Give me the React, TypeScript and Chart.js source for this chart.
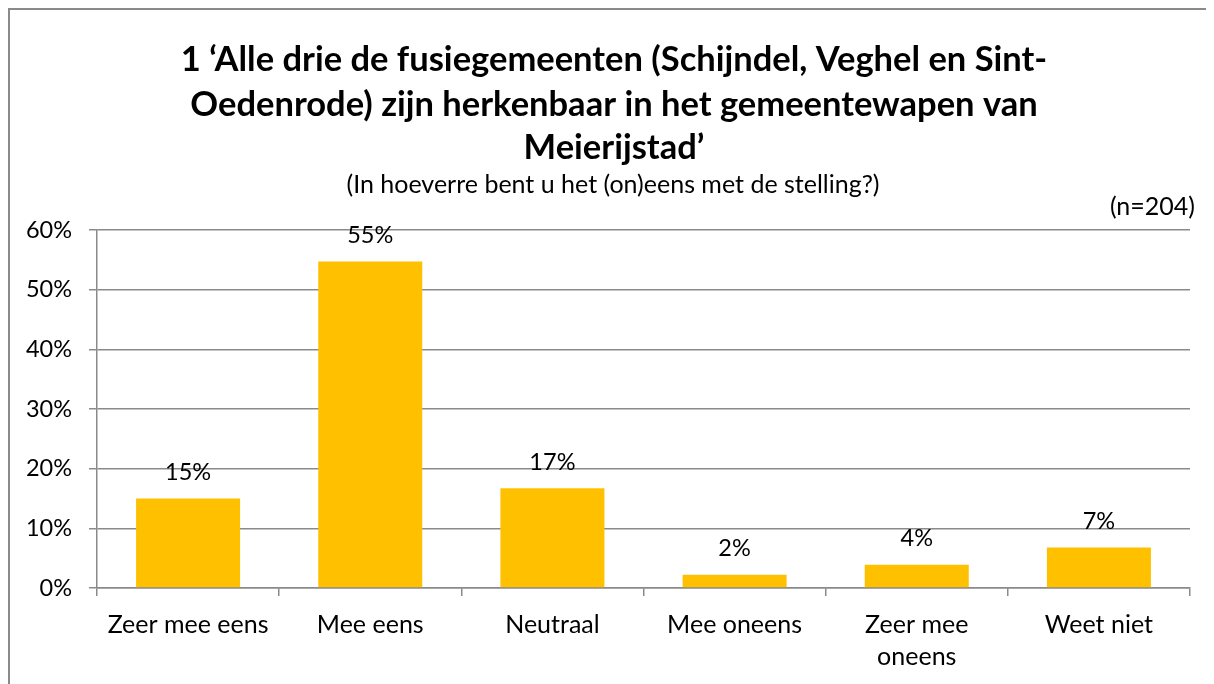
import React, { useEffect, useRef } from "react";
import { Chart, registerables } from "chart.js";

Chart.register(...registerables);

const categories: (string | string[])[] = [
  "Zeer mee eens",
  "Mee eens",
  "Neutraal",
  "Mee oneens",
  ["Zeer mee", "oneens"],
  "Weet niet",
];
const values: number[] = [15.0, 54.7, 16.7, 2.2, 3.9, 6.8];
const titleLines: string[] = [
  "1 \u2018Alle drie de fusiegemeenten (Schijndel, Veghel en Sint-",
  "Oedenrode) zijn herkenbaar in het gemeentewapen van",
  "Meierijstad\u2019",
];
const subtitle = "(In hoeverre bent u het (on)eens met de stelling?)";
const sampleNote = "(n=204)";
const yTicks = { min: 0, max: 60, step: 10 };

const FONT = "Lato, 'Open Sans', sans-serif";
const GRID = "#8a8a8a";
const BAR = "#FFC000";

const textPlugin = {
  id: "texts",
  afterDraw(chart: any) {
    const ctx = chart.ctx;
    ctx.save();
    ctx.fillStyle = "#000";
    ctx.textAlign = "center";
    ctx.textBaseline = "middle";
    ctx.font = `bold 34.5px ${FONT}`;
    const ys = [50, 95, 138];
    titleLines.forEach((l, i) => ctx.fillText(l, 604, ys[i]));
    ctx.font = `25px ${FONT}`;
    ctx.fillText(subtitle, 603, 175);
    ctx.textAlign = "right";
    ctx.fillText(sampleNote, 1185, 197);
    // data labels
    ctx.textAlign = "center";
    ctx.font = `23.5px ${FONT}`;
    const meta = chart.getDatasetMeta(0);
    meta.data.forEach((bar: any, i: number) => {
      ctx.fillText(Math.round(values[i]) + "%", bar.x, bar.y - 26);
    });
    ctx.restore();
  },
};

export default function App() {
  const ref = useRef<HTMLCanvasElement>(null);
  useEffect(() => {
    document.body.style.overflow = "hidden";
    const chart = new Chart(ref.current!, {
      type: "bar",
      data: {
        labels: categories,
        datasets: [
          {
            data: values,
            backgroundColor: BAR,
            categoryPercentage: 1,
            barPercentage: 0.571,
          },
        ],
      },
      options: {
        animation: false,
        responsive: false,
        layout: { padding: { top: 220, right: 24, left: 0, bottom: 0 } },
        plugins: { legend: { display: false }, tooltip: { enabled: false } },
        scales: {
          x: {
            afterFit: (s: any) => {
              s.height = 96;
            },
            grid: {
              drawOnChartArea: false,
              drawTicks: true,
              tickLength: 8,
              color: GRID,
              lineWidth: 1.5,
              offset: true,
            },
            border: { color: GRID, width: 1.5 },
            ticks: {
              color: "#000",
              font: { family: FONT, size: 25, lineHeight: 1.28 },
              padding: 13,
              maxRotation: 0,
              autoSkip: false,
            },
          },
          y: {
            min: yTicks.min,
            max: yTicks.max,
            afterFit: (s: any) => {
              s.width = 87;
            },
            grid: { color: GRID, lineWidth: 1.5, tickLength: 8, drawTicks: true },
            border: { color: GRID, width: 1.5 },
            ticks: {
              stepSize: yTicks.step,
              color: "#000",
              font: { family: FONT, size: 23.5 },
              padding: 17,
              callback: (v: any) => v + "%",
            },
          },
        },
      },
      plugins: [textPlugin],
    });
    return () => chart.destroy();
  }, []);
  return (
    <div
      style={{
        width: 1204,
        height: 674,
        borderLeft: "2px solid #8a8a8a",
        borderTop: "2px solid #8a8a8a",
      }}
    >
      <canvas ref={ref} width={1204} height={674} style={{ display: "block" }} />
    </div>
  );
}
